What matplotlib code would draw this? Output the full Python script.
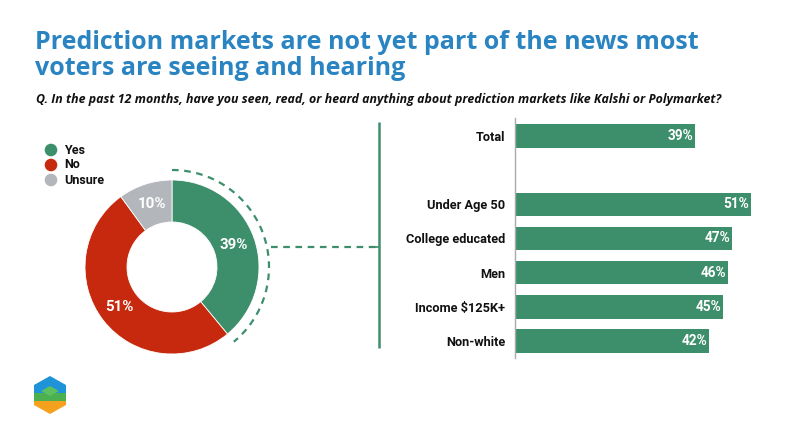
import matplotlib
matplotlib.use("Agg")
import matplotlib.pyplot as plt
import numpy as np
from matplotlib.patches import Polygon, Circle, Rectangle

# ---- data ----
donut_labels = ["Yes", "No", "Unsure"]
donut_values = [39, 51, 10]
categories = ["Total", "Under Age 50", "College educated", "Men", "Income $125K+", "Non-white"]
values = [39, 51, 47, 46, 45, 42]

title_lines = ["Prediction markets are not yet part of the news most",
               "voters are seeing and hearing"]
subtitle = "Q. In the past 12 months, have you seen, read, or heard anything about prediction markets like Kalshi or Polymarket?"

GREEN = "#3d8f6c"
RED = "#c6290e"
GRAY = "#b3b6bb"
BLUE = "#2a84c2"
FONT = "Roboto"
TFONT = "Open Sans"

W, H = 800, 448
fig = plt.figure(figsize=(W / 100, H / 100), dpi=100)
fig.patch.set_facecolor("white")

def box(x0, y0, x1, y1):
    return [x0 / W, 1 - y1 / H, (x1 - x0) / W, (y1 - y0) / H]

# overlay axes in pixel coordinates
ov = fig.add_axes([0, 0, 1, 1])
ov.set_xlim(0, W)
ov.set_ylim(H, 0)
ov.axis("off")

ov.text(35, 49, title_lines[0], fontsize=18,
        fontweight="bold", color=BLUE, family=TFONT, va="baseline")
ov.text(35, 75, title_lines[1], fontsize=18,
        fontweight="bold", color=BLUE, family=TFONT, va="baseline")
ov.text(36, 103, subtitle, fontsize=8.95, fontweight="bold", style="italic",
        color="#111111", family=TFONT, va="baseline")

# legend
for i, (lab, col) in enumerate(zip(donut_labels, [GREEN, RED, GRAY])):
    y = 150 + i * 15
    ov.add_patch(Circle((51, y), 6.3, color=col, lw=0))
    ov.text(64, y, lab, fontsize=9, fontweight="bold", color="#111111",
            family=FONT, va="center", ha="left")

# connector lines
ov.plot([271, 376], [247, 247], color=GREEN, lw=1.6, ls=(0, (3, 2.5)))
ov.plot([379, 379], [122, 348], color=GREEN, lw=1.8, solid_capstyle="butt")
ov.plot([375, 379], [247, 247], color=GREEN, lw=1.2)

# logo
cx, cy = 50, 395
hexpts = [(cx, 376), (cx + 16, 385), (cx + 16, 405), (cx, 414), (cx - 16, 405), (cx - 16, 385)]
hexp = Polygon(hexpts, closed=True, facecolor="none", edgecolor="none")
ov.add_patch(hexp)
for (y0, y1, c) in [(370, 393, "#1f93d8"), (393, 401, "#4caf50"), (401, 420, "#f4a11e")]:
    r = Rectangle((cx - 17, y0), 34, y1 - y0, facecolor=c, edgecolor="none")
    ov.add_patch(r)
    r.set_clip_path(hexp)
inner = Polygon([(cx, 386), (cx + 9, 391), (cx, 396), (cx - 9, 391)], closed=True,
                facecolor="#5cbf60", edgecolor="none")
ov.add_patch(inner)
inner.set_clip_path(hexp)

# donut
dcx, dcy = 172, 267
da = fig.add_axes(box(dcx - 110, dcy - 110, dcx + 110, dcy + 110))
R_out, R_in = 87, 45
wedges, texts, autotexts = da.pie(
    donut_values, colors=[GREEN, RED, GRAY], radius=R_out, startangle=90,
    counterclock=False, wedgeprops=dict(width=R_out - R_in, edgecolor="white", linewidth=0.6),
    autopct=lambda p: f"{p:.0f}%", pctdistance=(R_out + R_in) / 2 / R_out,
    frame=True)
da.set_xlim(-110, 110)
da.set_ylim(-110, 110)
da.axis("off")
for t in autotexts:
    t.set_color("white")
    t.set_fontsize(10.8)
    t.set_fontweight("bold")
    t.set_family(FONT)

# dashed arc over "Yes" slice
frac = donut_values[0] / sum(donut_values)
th = np.radians(90 - np.linspace(0, 360 * frac, 100))
Rarc = 97
da.plot(Rarc * np.cos(th), Rarc * np.sin(th), color=GREEN, lw=1.6,
        ls=(0, (3, 2.5)), clip_on=False)

# bar chart
pos = [0, 2, 3, 4, 5, 6]
slot = 34.2
top_px = 118
bx0 = 515
ppu = 4.62
ba = fig.add_axes(box(bx0, top_px, bx0 + 60 * ppu, 358))
ba.set_xlim(0, 60)
ba.set_ylim(6.5, -(136 - top_px) / slot)
ba.barh(pos, values, height=0.69, color=GREEN)
for p, v in zip(pos, values):
    ba.text(v - 0.3, p, f"{v}%", color="white", fontsize=9.8, fontweight="bold",
            family=FONT, ha="right", va="center")
ba.set_yticks(pos)
ba.set_yticklabels(categories, fontsize=9.2, fontweight="bold", family=FONT, color="#111111")
ba.tick_params(axis="y", length=0, pad=7)
ba.set_xticks([])
for s in ["top", "right", "bottom"]:
    ba.spines[s].set_visible(False)
ba.spines["left"].set_color("#aaaaaa")
ba.spines["left"].set_linewidth(1.0)
ba.patch.set_alpha(0)

fig.savefig("out.png", dpi=100, facecolor="white")
